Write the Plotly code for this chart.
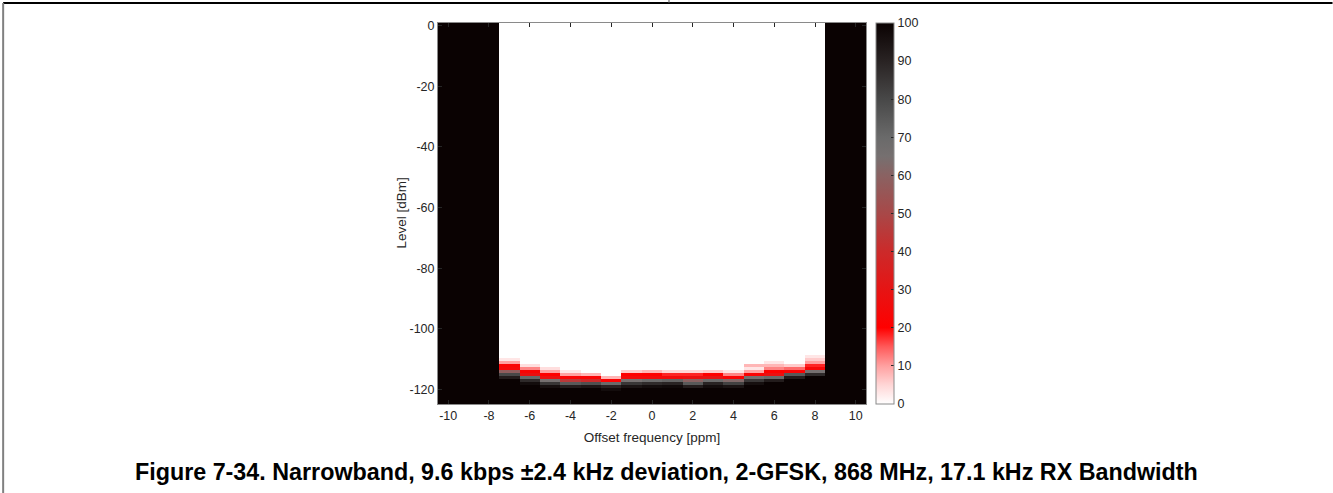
import plotly.graph_objects as go

# Dados
offsets = list(range(-10, 11))          # Offset frequency [ppm]
levels = list(range(1, -126, -1))       # Level [dBm]

# nivel (dBm) da primeira linha com erro em cada coluna; None = coluna toda preta
edge_top = [None, None, None, -110, -112, -113, -114, -115, -116, -114, -114,
            -114, -114, -114, -114, -112, -111, -112, -109, None, None]
# PER (%) descendo a partir de edge_top; abaixo disso 100 %, acima 0 %
edge_per = [
    [], [], [],
    [3, 10, 22, 24, 58, 80, 92],
    [4, 12, 22, 28, 70, 88, 97],
    [4, 10, 20, 28, 65, 85, 96],
    [3, 10, 22, 45, 75, 92],
    [8, 22, 40, 78, 94],
    [8, 22, 70, 90, 97],
    [6, 20, 25, 65, 85, 95],
    [8, 20, 25, 70, 88, 97],
    [5, 18, 25, 72, 90, 98],
    [5, 18, 28, 60, 75, 92],
    [6, 20, 30, 70, 90, 97],
    [3, 12, 22, 62, 82, 95],
    [8, 3, 10, 22, 65, 85, 96],
    [3, 8, 12, 20, 28, 70, 92],
    [6, 14, 22, 75, 92],
    [3, 6, 10, 18, 24, 65, 88],
    [], [],
]

cbar_ticks = list(range(0, 101, 10))
x_ticks = list(range(-10, 11, 2))
y_ticks = list(range(0, -121, -20))

# Montando a matriz
z = []
for lv in levels:
    row = []
    for top, per in zip(edge_top, edge_per):
        if top is None:
            row.append(100)
        elif lv > top:
            row.append(0)
        elif top - lv < len(per):
            row.append(per[top - lv])
        else:
            row.append(100)
    z.append(row)

# Escala de cores (branco -> vermelho -> cinza -> preto)
escala = [
    [0.0, '#ffffff'], [0.05, '#ffd6d6'], [0.1, '#ffa0a0'], [0.15, '#ff5a5a'],
    [0.2, '#ff0000'], [0.3, '#e61414'], [0.4, '#cc2a2a'], [0.5, '#a84848'],
    [0.6, '#8a6262'], [0.65, '#767070'], [0.7, '#6a6a6a'], [0.8, '#484848'],
    [0.9, '#292323'], [1.0, '#0a0202'],
]

fonte = dict(family='Liberation Sans, Arial, sans-serif', size=12.5, color='#262626')

fig = go.Figure(go.Heatmap(
    x=offsets, y=levels, z=z, zmin=0, zmax=100, colorscale=escala,
    colorbar=dict(
        x=1.023, xanchor='left', y=0.5, yanchor='middle', len=1, lenmode='fraction',
        thickness=18, outlinecolor='#8a8a8a', outlinewidth=1,
        tickvals=cbar_ticks, ticks='inside', ticklen=3, tickcolor='#262626',
        tickfont=fonte, xpad=0, ypad=0,
    ),
))

eixo = dict(showline=True, linecolor='#8a8a8a', linewidth=1, mirror='ticks',
            ticks='inside', ticklen=4, tickcolor='#262626', tickfont=fonte,
            showgrid=False, zeroline=False)

fig.update_xaxes(range=[-10.5, 10.5], tickvals=x_ticks, ticktext=[str(v) for v in x_ticks],
                 title=dict(text='Offset frequency [ppm]', font=dict(fonte, size=13.5), standoff=10),
                 **eixo)
fig.update_yaxes(range=[-124.8, 0.9], tickvals=y_ticks, ticktext=[str(v) for v in y_ticks],
                 **eixo)

# titulo do eixo y
fig.add_annotation(text='Level [dBm]', xref='paper', yref='paper', x=-0.0864, y=0.5,
                   textangle=-90, showarrow=False, xanchor='center', yanchor='middle',
                   font=dict(fonte, size=13.5))

# Bordas do documento
linhas = [
    dict(x0=-1.016, x1=2.09, y0=1.0525, y1=1.0525, line=dict(color='black', width=2)),
    dict(x0=-1.016, x1=-1.016, y0=1.0525, y1=-0.24, line=dict(color='#808080', width=2)),
    dict(x0=0.5397, x1=0.5397, y0=1.07, y1=1.0525, line=dict(color='#555555', width=1)),
]
for l in linhas:
    fig.add_shape(type='line', xref='paper', yref='paper', **l)

fig.add_annotation(
    text='Figure 7-34. Narrowband, 9.6 kbps ±2.4 kHz deviation, 2-GFSK, 868 MHz, 17.1 kHz RX Bandwidth',
    xref='paper', yref='paper', x=0.533, y=-0.178, showarrow=False,
    xanchor='center', yanchor='middle',
    font=dict(family='Liberation Sans, Arial, sans-serif', size=23.3, color='black', weight='bold'),
)

fig.update_layout(
    width=1333, height=493,
    margin=dict(l=438, r=467, t=23, b=89),
    paper_bgcolor='white', plot_bgcolor='white',
    showlegend=False,
)

# tira a margem padrao do body da pagina
fig.write_html('out.html', config={'displayModeBar': False},
               post_script="document.body.style.margin='0';")
